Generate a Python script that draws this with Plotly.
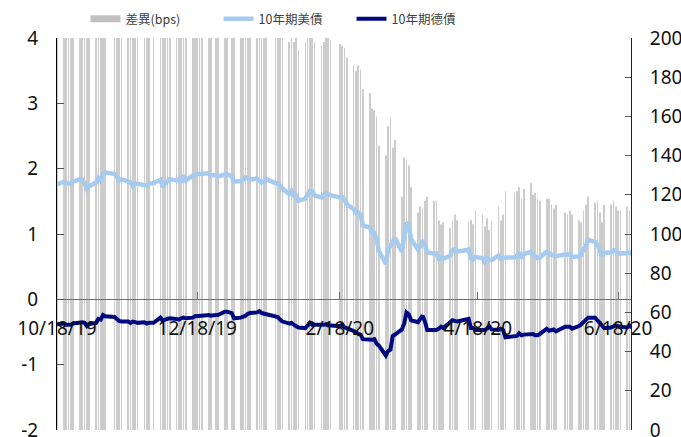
import plotly.graph_objects as go

# business days with both US and German quotes, Oct 2019 - Jun 2020
dates = [
    "2019-10-18", "2019-10-21", "2019-10-22", "2019-10-23", "2019-10-24", "2019-10-25",
    "2019-10-28", "2019-10-29", "2019-10-30", "2019-10-31",
    "2019-11-01", "2019-11-04", "2019-11-05", "2019-11-06", "2019-11-07", "2019-11-08",
    "2019-11-12", "2019-11-13", "2019-11-14", "2019-11-15", "2019-11-18", "2019-11-19",
    "2019-11-20", "2019-11-21", "2019-11-22", "2019-11-25", "2019-11-26", "2019-11-27",
    "2019-11-29",
    "2019-12-02", "2019-12-03", "2019-12-04", "2019-12-05", "2019-12-06", "2019-12-09",
    "2019-12-10", "2019-12-11", "2019-12-12", "2019-12-13", "2019-12-16", "2019-12-17",
    "2019-12-18", "2019-12-19", "2019-12-20", "2019-12-23", "2019-12-24", "2019-12-26",
    "2019-12-27", "2019-12-30", "2019-12-31",
    "2020-01-02", "2020-01-03", "2020-01-06", "2020-01-07", "2020-01-08", "2020-01-09",
    "2020-01-10", "2020-01-13", "2020-01-14", "2020-01-15", "2020-01-16", "2020-01-17",
    "2020-01-21", "2020-01-22", "2020-01-23", "2020-01-24", "2020-01-27", "2020-01-28",
    "2020-01-29", "2020-01-30", "2020-01-31",
    "2020-02-03", "2020-02-04", "2020-02-05", "2020-02-06", "2020-02-07", "2020-02-10",
    "2020-02-11", "2020-02-12", "2020-02-13", "2020-02-14", "2020-02-18", "2020-02-19",
    "2020-02-20", "2020-02-21", "2020-02-24", "2020-02-25", "2020-02-26", "2020-02-27",
    "2020-02-28",
    "2020-03-02", "2020-03-03", "2020-03-04", "2020-03-05", "2020-03-06", "2020-03-09",
    "2020-03-10", "2020-03-11", "2020-03-12", "2020-03-13", "2020-03-16", "2020-03-17",
    "2020-03-18", "2020-03-19", "2020-03-20", "2020-03-23", "2020-03-24", "2020-03-25",
    "2020-03-26", "2020-03-27", "2020-03-30", "2020-03-31",
    "2020-04-01", "2020-04-02", "2020-04-03", "2020-04-06", "2020-04-07", "2020-04-08",
    "2020-04-09", "2020-04-14", "2020-04-15", "2020-04-16", "2020-04-17", "2020-04-20",
    "2020-04-21", "2020-04-22", "2020-04-23", "2020-04-24", "2020-04-27", "2020-04-28",
    "2020-04-29", "2020-04-30",
    "2020-05-04", "2020-05-05", "2020-05-06", "2020-05-07", "2020-05-08", "2020-05-11",
    "2020-05-12", "2020-05-13", "2020-05-14", "2020-05-15", "2020-05-18", "2020-05-19",
    "2020-05-20", "2020-05-21", "2020-05-22", "2020-05-26", "2020-05-27", "2020-05-28",
    "2020-05-29",
    "2020-06-01", "2020-06-02", "2020-06-03", "2020-06-04", "2020-06-05", "2020-06-08",
    "2020-06-09", "2020-06-10", "2020-06-11", "2020-06-12", "2020-06-15", "2020-06-16",
    "2020-06-17", "2020-06-18", "2020-06-19", "2020-06-22", "2020-06-23", "2020-06-24",
]

us_10y = [
    1.76, 1.80, 1.78, 1.77, 1.77, 1.80, 1.84, 1.83, 1.78, 1.69,
    1.73, 1.79, 1.86, 1.82, 1.92, 1.94, 1.92, 1.88, 1.82, 1.84, 1.81, 1.79,
    1.73, 1.77, 1.77, 1.76, 1.74, 1.77, 1.78,
    1.83, 1.72, 1.77, 1.80, 1.84, 1.82, 1.84, 1.79, 1.90, 1.82, 1.89, 1.89,
    1.92, 1.92, 1.92, 1.93, 1.90, 1.90, 1.88, 1.90, 1.92,
    1.88, 1.80, 1.81, 1.83, 1.87, 1.85, 1.83, 1.85, 1.82, 1.79, 1.81, 1.84,
    1.78, 1.77, 1.74, 1.70, 1.61, 1.66, 1.59, 1.59, 1.51,
    1.54, 1.61, 1.66, 1.65, 1.59, 1.56, 1.59, 1.63, 1.61, 1.59, 1.56, 1.57,
    1.52, 1.46, 1.38, 1.33, 1.33, 1.30, 1.13,
    1.10, 1.02, 1.02, 0.92, 0.74, 0.54, 0.76, 0.82, 0.88, 0.94, 0.73, 1.02,
    1.18, 1.12, 0.92, 0.76, 0.84, 0.88, 0.83, 0.72, 0.70, 0.70,
    0.62, 0.63, 0.62, 0.67, 0.75, 0.77, 0.73, 0.76, 0.63, 0.61, 0.65, 0.63,
    0.57, 0.63, 0.61, 0.60, 0.67, 0.62, 0.63, 0.64,
    0.64, 0.66, 0.72, 0.63, 0.69, 0.73, 0.67, 0.66, 0.63, 0.64, 0.73, 0.70,
    0.68, 0.67, 0.66, 0.69, 0.68, 0.70, 0.65,
    0.66, 0.68, 0.77, 0.82, 0.91, 0.88, 0.84, 0.75, 0.66, 0.71, 0.72, 0.75,
    0.74, 0.71, 0.70, 0.71, 0.72, 0.69,
]

de_10y = [
    -0.38, -0.37, -0.39, -0.39, -0.39, -0.37, -0.35, -0.35, -0.36, -0.41,
    -0.38, -0.36, -0.30, -0.31, -0.24, -0.26, -0.27, -0.31, -0.33, -0.34, -0.34, -0.36,
    -0.34, -0.35, -0.36, -0.35, -0.37, -0.36, -0.36,
    -0.28, -0.33, -0.31, -0.30, -0.29, -0.30, -0.31, -0.29, -0.28, -0.29, -0.28, -0.26,
    -0.26, -0.25, -0.25, -0.24, -0.25, -0.24, -0.24, -0.19, -0.19,
    -0.21, -0.29, -0.28, -0.27, -0.25, -0.22, -0.21, -0.20, -0.18, -0.21, -0.22, -0.22,
    -0.26, -0.27, -0.31, -0.34, -0.37, -0.36, -0.39, -0.42, -0.43,
    -0.44, -0.40, -0.36, -0.39, -0.39, -0.40, -0.39, -0.38, -0.40, -0.40, -0.41, -0.39,
    -0.43, -0.44, -0.48, -0.50, -0.53, -0.54, -0.61,
    -0.62, -0.62, -0.61, -0.68, -0.71, -0.86, -0.79, -0.77, -0.56, -0.54, -0.46, -0.37,
    -0.20, -0.23, -0.32, -0.35, -0.30, -0.25, -0.34, -0.47, -0.47, -0.47,
    -0.45, -0.42, -0.44, -0.36, -0.32, -0.33, -0.34, -0.30, -0.44, -0.44, -0.47, -0.47,
    -0.47, -0.45, -0.41, -0.46, -0.47, -0.45, -0.47, -0.58,
    -0.57, -0.56, -0.52, -0.55, -0.54, -0.53, -0.53, -0.55, -0.55, -0.53, -0.45, -0.48,
    -0.47, -0.46, -0.49, -0.42, -0.42, -0.42, -0.45,
    -0.41, -0.38, -0.35, -0.33, -0.28, -0.28, -0.33, -0.36, -0.40, -0.44, -0.43, -0.42,
    -0.40, -0.41, -0.42, -0.43, -0.40, -0.43,
]

spread_bps = [
    214, 217, 217, 216, 216, 217, 219, 218, 214, 210,
    211, 215, 216, 213, 216, 220, 219, 219, 215, 218, 215, 215,
    207, 212, 213, 211, 211, 213, 214,
    211, 205, 208, 210, 213, 212, 215, 208, 218, 211, 217, 215,
    218, 217, 217, 217, 215, 214, 212, 209, 211,
    209, 209, 209, 210, 212, 207, 204, 205, 200, 200, 203, 206,
    204, 204, 205, 204, 198, 202, 198, 201, 194,
    198, 201, 202, 204, 198, 196, 198, 201, 201, 199, 197, 196,
    195, 190, 186, 183, 186, 184, 174,
    172, 164, 163, 160, 145, 140, 155, 159, 144, 148, 119, 139,
    138, 135, 124, 111, 114, 113, 117, 119, 117, 117,
    107, 105, 106, 103, 107, 110, 107, 106, 107, 105, 112, 110,
    104, 108, 102, 106, 114, 107, 110, 122,
    121, 122, 124, 118, 123, 126, 120, 121, 118, 117, 118, 118,
    115, 113, 115, 111, 110, 112, 110,
    107, 106, 112, 115, 119, 116, 117, 111, 106, 115, 115, 117,
    114, 112, 112, 114, 112, 112,
]

tick_dates = ["2019-10-18", "2019-12-18", "2020-02-18", "2020-04-18", "2020-06-18"]
tick_labels = ["10/18/19", "12/18/19", "2/18/20", "4/18/20", "6/18/20"]
left_ticks = [-2, -1, 0, 1, 2, 3, 4]
left_labels = ["-2", "-1", "0", "1", "2", "3", "4"]

tick_font = dict(family="Noto Sans", size=19, color="#111111")
DAY_MS = 86400000

fig = go.Figure()

fig.add_trace(go.Bar(
    x=dates, y=spread_bps, name="差異(bps)",
    marker=dict(color="#cccccc", line=dict(width=0)),
    width=0.3 * DAY_MS, showlegend=False,
))
# legend-only entry so the bar key is drawn as a wide flat swatch
fig.add_trace(go.Scatter(
    x=[None], y=[None], mode="lines", name="差異(bps)",
    line=dict(color="#c0c0c0", width=7), yaxis="y2",
))
fig.add_trace(go.Scatter(
    x=dates, y=us_10y, mode="lines", name="10年期美債",
    line=dict(color="#a7cbee", width=4.5), yaxis="y2",
))
fig.add_trace(go.Scatter(
    x=dates, y=de_10y, mode="lines", name="10年期德債",
    line=dict(color="#000a80", width=4), yaxis="y2",
))

fig.update_layout(
    width=681, height=437, autosize=False,
    margin=dict(l=57, r=50, t=38, b=7, autoexpand=False),
    paper_bgcolor="white", plot_bgcolor="white",
    font=dict(family="Noto Sans CJK TC", color="#333333"),
    showlegend=True,
    legend=dict(
        orientation="h", x=0.0497, xanchor="left", y=1.048, yanchor="middle",
        font=dict(family="Noto Sans CJK TC", size=12.5, color="#404040"),
        entrywidth=88, bgcolor="rgba(0,0,0,0)",
    ),
    xaxis=dict(
        type="date", range=["2019-10-18", "2020-06-23 15:00"],
        anchor="free", position=1 / 3,
        showline=True, linecolor="#6f6f6f", linewidth=1,
        ticks="inside", ticklen=7, tickcolor="#6f6f6f",
        tickvals=tick_dates, ticktext=tick_labels, tickfont=tick_font,
        ticklabelstandoff=12, ticklabeloverflow="allow",
        showgrid=False, zeroline=False,
    ),
    yaxis=dict(
        range=[0, 200], dtick=20, side="right",
        showline=True, linecolor="#222222", linewidth=1,
        ticks="inside", ticklen=6, tickcolor="#555555",
        tickfont=tick_font, ticklabelstandoff=14, ticklabeloverflow="allow",
        showgrid=False, zeroline=False,
    ),
    yaxis2=dict(
        range=[-2, 4], overlaying="y", side="left",
        tickvals=left_ticks, ticktext=left_labels,
        showline=True, linecolor="#000000", linewidth=1,
        ticks="inside", ticklen=7, tickcolor="#555555",
        tickfont=tick_font, ticklabelstandoff=14, ticklabeloverflow="allow",
        showgrid=False, zeroline=False,
    ),
)

# drop the default page margin so the figure sits at the window's top-left
fig.write_html(
    "out.html",
    config={"displayModeBar": False},
    post_script="document.body.style.margin='0px';",
)
